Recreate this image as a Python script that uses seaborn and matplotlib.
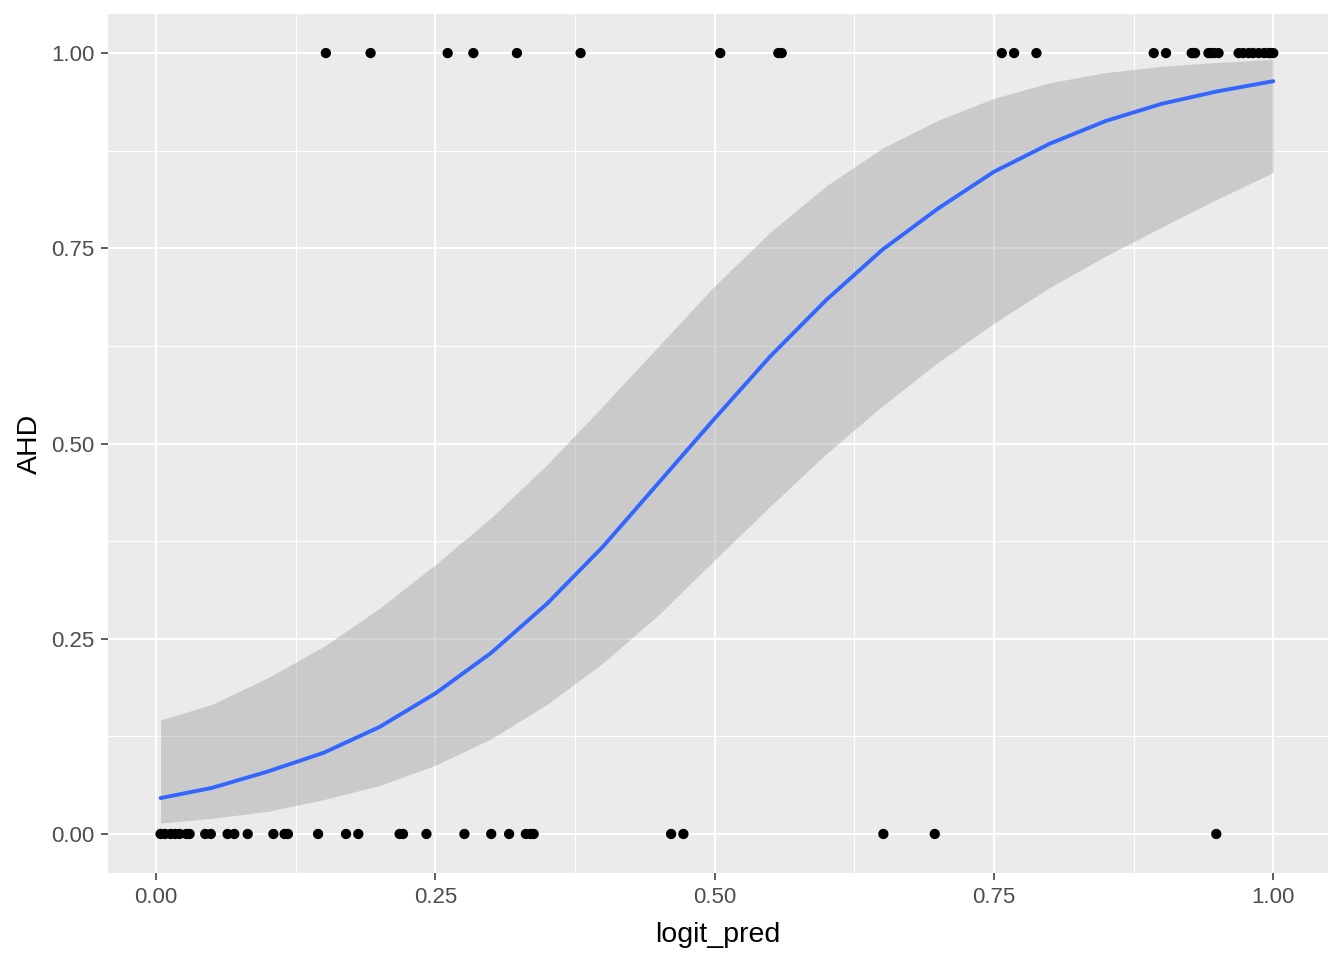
import numpy as np
import pandas as pd
import matplotlib
matplotlib.use("Agg")
import matplotlib.pyplot as plt
import seaborn as sns
from matplotlib.ticker import FixedLocator, FormatStrFormatter

sns.set_theme(style="darkgrid")
plt.rcParams["font.family"] = ["Liberation Sans", "DejaVu Sans"]

# Observed points: logit_pred for AHD == 1 and AHD == 0
ahd_yes_pred = [0.152, 0.192, 0.261, 0.284, 0.323, 0.380, 0.505, 0.557, 0.560,
                0.757, 0.768, 0.788, 0.893, 0.904, 0.927, 0.928, 0.930, 0.942,
                0.944, 0.947, 0.951, 0.969, 0.973, 0.978, 0.982, 0.987, 0.992,
                0.996, 0.998, 1.000]
ahd_no_pred = [0.004, 0.008, 0.013, 0.017, 0.021, 0.027, 0.030, 0.044, 0.049,
               0.064, 0.070, 0.082, 0.105, 0.115, 0.118, 0.145, 0.170, 0.181,
               0.218, 0.221, 0.242, 0.276, 0.300, 0.316, 0.331, 0.335, 0.338,
               0.461, 0.472, 0.651, 0.697, 0.949]

# Fitted logistic smooth with confidence band
fit_x = [0.004, 0.05, 0.10, 0.15, 0.20, 0.25, 0.30, 0.35, 0.40, 0.45, 0.50,
         0.55, 0.60, 0.65, 0.70, 0.75, 0.80, 0.85, 0.90, 0.95, 1.00]
fit_y = [0.046, 0.059, 0.080, 0.104, 0.137, 0.180, 0.232, 0.295, 0.368, 0.450,
         0.532, 0.612, 0.684, 0.748, 0.801, 0.848, 0.884, 0.913, 0.935, 0.951,
         0.964]
fit_hi = [0.146, 0.166, 0.200, 0.240, 0.289, 0.345, 0.405, 0.473, 0.548, 0.625,
          0.702, 0.771, 0.830, 0.878, 0.914, 0.942, 0.962, 0.975, 0.983, 0.988,
          0.992]
fit_lo = [0.014, 0.020, 0.029, 0.044, 0.062, 0.088, 0.122, 0.166, 0.219, 0.281,
          0.351, 0.420, 0.487, 0.548, 0.604, 0.654, 0.700, 0.740, 0.777, 0.813,
          0.847]

points = pd.DataFrame({
    "logit_pred": ahd_yes_pred + ahd_no_pred,
    "AHD": [1.0] * len(ahd_yes_pred) + [0.0] * len(ahd_no_pred),
})
fit = pd.DataFrame({"logit_pred": fit_x, "AHD": fit_y, "lo": fit_lo, "hi": fit_hi})

fig = plt.figure(figsize=(13.44, 9.6), dpi=100)
ax = fig.add_axes([0.0804, 0.0906, 0.9077, 0.8948])
ax.set_facecolor("#EBEBEB")

ax.fill_between(fit["logit_pred"], fit["lo"], fit["hi"], color="#999999",
                alpha=0.4, linewidth=0, zorder=2)
sns.scatterplot(data=points, x="logit_pred", y="AHD", color="black", s=55,
                edgecolor="none", ax=ax, zorder=3)
sns.lineplot(data=fit, x="logit_pred", y="AHD", color="#3366FF", linewidth=2.8,
             ax=ax, zorder=4)

ax.set_xlim(-0.043, 1.049)
ax.set_ylim(-0.05, 1.05)

major = [0.0, 0.25, 0.5, 0.75, 1.0]
minor = [0.125, 0.375, 0.625, 0.875]
for axis in (ax.xaxis, ax.yaxis):
    axis.set_major_locator(FixedLocator(major))
    axis.set_minor_locator(FixedLocator(minor))
    axis.set_major_formatter(FormatStrFormatter("%.2f"))
ax.grid(which="major", color="white", linewidth=1.5)
ax.grid(which="minor", color="white", linewidth=0.75)
ax.set_axisbelow(True)
for s in ax.spines.values():
    s.set_visible(False)

ax.tick_params(axis="both", which="major", length=5, width=1.1, color="#333333",
               labelsize=16, labelcolor="#4D4D4D", pad=5, bottom=True, left=True)
ax.tick_params(axis="both", which="minor", length=0)

ax.set_xlabel("logit_pred", fontsize=20.5, color="black", labelpad=10)
ax.set_ylabel("AHD", fontsize=20.5, color="black", labelpad=6)

fig.savefig("out.png", dpi=100)
